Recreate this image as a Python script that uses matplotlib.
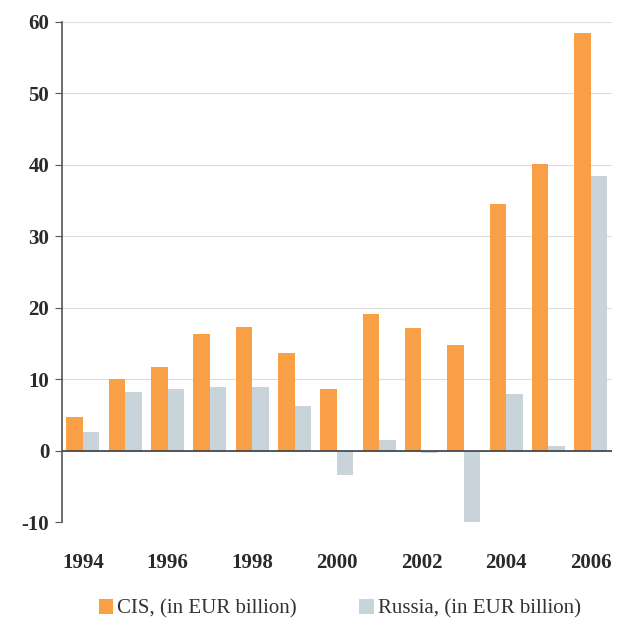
import matplotlib
matplotlib.use("Agg")
import matplotlib.pyplot as plt
import numpy as np

# Annual values, EUR billion
years = [1994, 1995, 1996, 1997, 1998, 1999, 2000,
         2001, 2002, 2003, 2004, 2005, 2006]
cis = [4.8, 10.0, 11.8, 16.3, 17.4, 13.7, 8.7,
       19.2, 17.2, 14.8, 34.5, 40.2, 58.5]
russia = [2.6, 8.2, 8.7, 9.0, 9.0, 6.3, -3.3,
          1.5, -0.3, -10.2, 8.0, 0.7, 38.4]
tick_years = [1994, 1996, 1998, 2000, 2002, 2004, 2006]

CIS_COLOR = "#F9A046"
RUSSIA_COLOR = "#C9D3DA"

plt.rcParams["font.family"] = ["Liberation Serif", "DejaVu Serif"]
plt.rcParams["axes.unicode_minus"] = False

fig = plt.figure(figsize=(6.18, 6.28), dpi=100)
ax = fig.add_axes([0.100, 0.168, 0.890, 0.797])

x = np.arange(len(years))
width = 0.39
ax.bar(x - width / 2, cis, width, color=CIS_COLOR,
       label="CIS, (in EUR billion)", zorder=3)
ax.bar(x + width / 2, russia, width, color=RUSSIA_COLOR,
       label="Russia, (in EUR billion)", zorder=3)

ax.set_xlim(-0.5, len(years) - 0.5)
ax.set_ylim(-10, 60)
ax.set_yticks(range(-10, 61, 10))
ax.yaxis.grid(True, color="#dcdcdc", linewidth=0.8, zorder=0)
ax.axhline(0, color="#3a3f4a", linewidth=1.2, zorder=4)

# only every second year gets a label
ax.set_xticks([years.index(y) for y in tick_years])
ax.set_xticklabels([str(y) for y in tick_years])
ax.tick_params(axis="x", length=0, pad=22)
ax.tick_params(axis="y", length=5, color="#555555", pad=4)
for lbl in ax.get_xticklabels() + ax.get_yticklabels():
    lbl.set_fontweight("bold")
    lbl.set_fontsize(15)
    lbl.set_color("#2a2a2a")

for side in ["top", "right", "bottom"]:
    ax.spines[side].set_visible(False)
ax.spines["left"].set_color("#555555")
ax.spines["left"].set_linewidth(1.2)

leg = fig.legend(loc="lower center", bbox_to_anchor=(0.55, -0.015), ncol=2,
                 frameon=False, fontsize=15, handlelength=0.7,
                 handleheight=0.7, handletextpad=0.2, columnspacing=3.0)
for txt in leg.get_texts():
    txt.set_color("#333333")

plt.savefig("out.png", dpi=100)
